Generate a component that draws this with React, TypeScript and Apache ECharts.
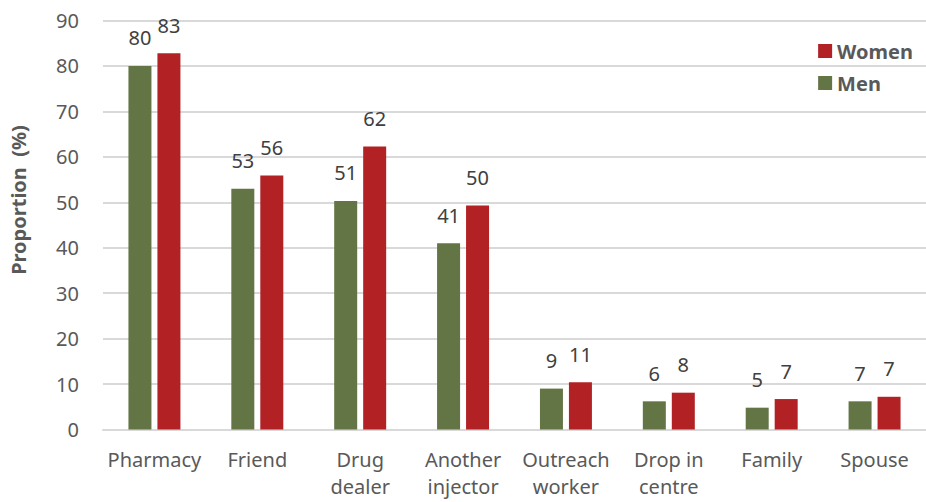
import React, { useEffect, useRef } from "react";
import * as echarts from "echarts";

const categories = [
  "Pharmacy",
  "Friend",
  "Drug\ndealer",
  "Another\ninjector",
  "Outreach\nworker",
  "Drop in\ncentre",
  "Family",
  "Spouse",
];
const menValues = [80.0, 53.0, 50.3, 41.0, 9.0, 6.2, 4.8, 6.2];
const womenValues = [82.8, 55.9, 62.3, 49.3, 10.4, 8.1, 6.7, 7.2];
const menLabels = ["80", "53", "51", "41", "9", "6", "5", "7"];
const womenLabels = ["83", "56", "62", "50", "11", "8", "7", "7"];
const yTicks = [0, 10, 20, 30, 40, 50, 60, 70, 80, 90];

const FONT = "'Noto Sans', 'Open Sans', sans-serif";
const GREEN = "#637545";
const RED = "#B22225";

export default function App() {
  const ref = useRef<HTMLDivElement>(null);
  useEffect(() => {
    if (!ref.current) return;
    const chart = echarts.init(ref.current, undefined, { renderer: "svg" });
    const labelFor = (labels: string[]) => ({
      show: true,
      position: "top",
      distance: 18,
      fontFamily: FONT,
      fontSize: 20,
      color: "#404040",
      formatter: (p: any) => labels[p.dataIndex],
    });
    chart.setOption({
      animation: false,
      textStyle: { fontFamily: FONT },
      grid: {
        left: 103,
        right: 0,
        top: 20.5,
        bottom: 72.5,
        containLabel: false,
        outerBoundsMode: "none",
      },
      legend: {
        data: ["Women", "Men"],
        orient: "vertical",
        right: 8,
        top: 36,
        itemWidth: 14,
        itemHeight: 14,
        itemGap: 12,
        icon: "rect",
        textStyle: { fontFamily: FONT, fontSize: 20, fontWeight: "bold", color: "#595959" },
      },
      graphic: [
        {
          type: "text",
          x: 18,
          y: 200,
          rotation: Math.PI / 2,
          style: {
            text: "Proportion  (%)",
            fontFamily: FONT,
            fontSize: 20,
            fontWeight: "bold",
            fill: "#595959",
            align: "center",
            verticalAlign: "middle",
          },
        },
      ],
      xAxis: {
        type: "category",
        data: categories,
        axisTick: { show: false },
        axisLine: { lineStyle: { color: "#D9D9D9", width: 2 } },
        axisLabel: {
          fontFamily: FONT,
          fontSize: 20,
          color: "#595959",
          margin: 16,
          lineHeight: 27,
          interval: 0,
        },
      },
      yAxis: {
        type: "value",
        min: yTicks[0],
        max: yTicks[yTicks.length - 1],
        interval: 10,
        axisLine: { show: false },
        axisTick: { show: false },
        splitLine: { lineStyle: { color: "#D9D9D9", width: 2 } },
        axisLabel: {
          fontFamily: FONT,
          fontSize: 20,
          color: "#595959",
          margin: 24,
        },
      },
      series: [
        {
          name: "Men",
          type: "bar",
          data: menValues,
          barWidth: 23,
          barGap: "26%",
          itemStyle: { color: GREEN },
          label: labelFor(menLabels),
        },
        {
          name: "Women",
          type: "bar",
          data: womenValues,
          barWidth: 23,
          barGap: "26%",
          itemStyle: { color: RED },
          label: labelFor(womenLabels),
        },
      ],
    });
    return () => chart.dispose();
  }, []);
  return <div ref={ref} style={{ width: 926, height: 502, position: "absolute", left: 0, top: 0 }} />;
}
